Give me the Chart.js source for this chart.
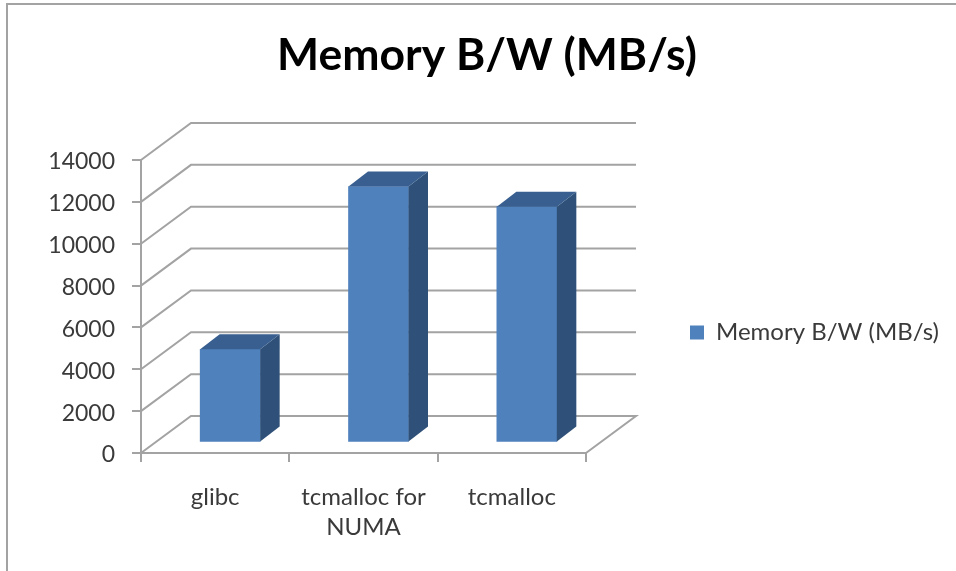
<!DOCTYPE html>
<html>
<head>
<meta charset="utf-8">
<title>Memory B/W (MB/s)</title>
<script src="https://cdn.jsdelivr.net/npm/chart.js@4"></script>
<style>
  html, body { margin: 0; padding: 0; background: #fff; }
  #wrap { width: 956px; height: 571px; }
  #chart { filter: blur(0.5px); }
</style>
</head>
<body>
<div id="wrap"><canvas id="chart" width="956" height="571"></canvas></div>
<script>
const categories = ["glibc", ["tcmalloc for", "NUMA"], "tcmalloc"];
const seriesName = "Memory B/W (MB/s)";
const bandwidth = [4450, 12230, 11270];
const yTicks = [0, 2000, 4000, 6000, 8000, 10000, 12000, 14000];

const LINE = "#a3a3a3";
const TEXT = "#3a3a3a";
const FRONT = "#4f81bd";
const SIDE = "#2f5179";
const TOP = "#385f8f";

// floor depth of the fake 3D box, and where the bars sit inside it
const wall = { dx: 50, dy: -37 };
const barOffset = { dx: 15, dy: -10.5 };
const barDepth = { dx: 19.5, dy: -15 };

function poly(ctx, pts, fill) {
    ctx.beginPath();
    pts.forEach((p, i) => i ? ctx.lineTo(p[0], p[1]) : ctx.moveTo(p[0], p[1]));
    ctx.closePath();
    ctx.fillStyle = fill;
    ctx.fill();
}

const frame = {
    id: "frame",
    beforeDraw(chart) {
        const ctx = chart.ctx;
        ctx.save();
        ctx.strokeStyle = LINE;
        ctx.lineWidth = 2;
        ctx.beginPath();
        ctx.moveTo(7, chart.height);
        ctx.lineTo(7, 4);
        ctx.lineTo(chart.width, 4);
        ctx.stroke();
        ctx.restore();
    }
};

// keeps the legend away from the plot, past the 3D walls
const legendGap = {
    id: "legendGap",
    beforeInit(chart) {
        Chart.layouts.addBox(chart, {
            position: "right",
            weight: 500,
            fullSize: false,
            options: {},
            width: 110,
            height: 0,
            isHorizontal: () => false,
            update() { return this; },
            draw() {}
        });
    },
    afterLayout(chart) {
        chart.legend.left -= 10;
        chart.legend.top += 47;
        chart.legend.bottom += 47;
        // title sits a little right of the canvas centre
        chart.titleBlock.left += 9;
        chart.titleBlock.right += 9;
    }
};

const box3d = {
    id: "box3d",
    beforeDatasetsDraw(chart) {
        const ctx = chart.ctx;
        const { left, right } = chart.chartArea;
        const y = chart.scales.y;
        ctx.save();
        ctx.strokeStyle = LINE;
        ctx.lineWidth = 2;
        yTicks.forEach(v => {
            const py = y.getPixelForValue(v);
            ctx.beginPath();
            ctx.moveTo(left, py);
            ctx.lineTo(left + wall.dx, py + wall.dy);
            ctx.lineTo(right + wall.dx, py + wall.dy);
            if (v === 0) ctx.lineTo(right, py);
            ctx.stroke();
        });
        ctx.restore();
        // front faces are the library's bars, pushed into the box
        ctx.save();
        ctx.translate(barOffset.dx, barOffset.dy);
    },
    afterDatasetsDraw(chart) {
        const ctx = chart.ctx;
        ctx.restore();
        chart.getDatasetMeta(0).data.forEach(bar => {
            const l = bar.x - bar.width / 2 + barOffset.dx;
            const r = bar.x + bar.width / 2 + barOffset.dx;
            const t = bar.y + barOffset.dy;
            const b = bar.base + barOffset.dy;
            poly(ctx, [[r, t], [r + barDepth.dx, t + barDepth.dy], [r + barDepth.dx, b + barDepth.dy], [r, b]], SIDE);
            poly(ctx, [[l, t], [l + barDepth.dx, t + barDepth.dy], [r + barDepth.dx, t + barDepth.dy], [r, t]], TOP);
        });
    }
};

new Chart(document.getElementById("chart"), {
    type: "bar",
    data: {
        labels: categories,
        datasets: [{
            label: seriesName,
            data: bandwidth,
            backgroundColor: FRONT,
            barThickness: 60
        }]
    },
    options: {
        responsive: false,
        animation: false,
        scales: {
            x: {
                grid: { offset: true, drawOnChartArea: false, color: LINE, lineWidth: 2, tickLength: 9, tickColor: LINE },
                border: { color: LINE, width: 2 },
                ticks: { color: TEXT, font: { family: "Lato", size: 24, lineHeight: 1.25 }, padding: 20, maxRotation: 0, autoSkip: false },
                afterFit(scale) { scale.height = 118; }
            },
            y: {
                min: 0,
                max: 14000,
                afterBuildTicks(scale) { scale.ticks = yTicks.map(value => ({ value })); },
                grid: { drawOnChartArea: false, color: LINE, lineWidth: 2, tickLength: 9, tickColor: LINE },
                border: { color: LINE, width: 2 },
                ticks: { color: TEXT, font: { family: "Lato", size: 23 }, padding: 17, labelOffset: 2, callback: v => String(v) },
                afterFit(scale) { scale.width = 141; }
            }
        },
        plugins: {
            title: {
                display: true,
                text: seriesName,
                color: "#000",
                font: { family: "Lato", size: 44.5, weight: "bold", lineHeight: 1.2 },
                padding: { top: 29, bottom: 77.6 }
            },
            legend: {
                position: "right",
                maxWidth: 260,
                labels: {
                    boxWidth: 14,
                    boxHeight: 14,
                    padding: 4,
                    color: TEXT,
                    font: { family: "Lato", size: 24 }
                }
            },
            tooltip: { enabled: false }
        }
    },
    plugins: [frame, legendGap, box3d]
});
</script>
</body>
</html>
